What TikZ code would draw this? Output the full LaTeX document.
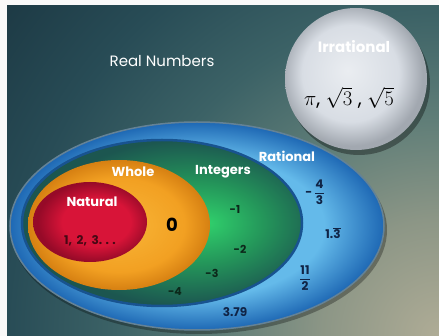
\documentclass[tikz,border=0pt]{standalone}
\usepackage{fontspec}
\setmainfont{Poppins}

% colours of the sets
\definecolor{bgA}{RGB}{175,172,150}
\definecolor{bgB}{RGB}{140,150,134}
\definecolor{bgC}{RGB}{96,126,120}
\definecolor{bgD}{RGB}{60,98,102}
\definecolor{bgE}{RGB}{40,76,86}
\definecolor{bgF}{RGB}{28,56,67}
\definecolor{bgG}{RGB}{18,42,55}
\definecolor{blueLt}{RGB}{100,186,234}
\definecolor{blueDk}{RGB}{30,104,180}
\definecolor{blueRim}{RGB}{100,130,150}
\definecolor{greenLt}{RGB}{48,208,108}
\definecolor{greenMd}{RGB}{36,150,90}
\definecolor{greenDk}{RGB}{28,86,80}
\definecolor{orangeLt}{RGB}{248,182,56}
\definecolor{orangeMd}{RGB}{242,160,34}
\definecolor{orangeDk}{RGB}{214,128,18}
\definecolor{redLt}{RGB}{216,20,56}
\definecolor{redDk}{RGB}{150,10,40}
\definecolor{greyLt}{RGB}{234,237,241}
\definecolor{greyMd}{RGB}{216,221,228}
\definecolor{greyDk}{RGB}{162,168,176}
\definecolor{numBlue}{RGB}{16,36,70}
\definecolor{numGreen}{RGB}{12,40,26}
\definecolor{numRed}{RGB}{70,8,20}

\pgfdeclareradialshading{bgshade}{\pgfpoint{0bp}{0bp}}{color(0bp)=(bgA); color(6.5bp)=(bgB); color(12bp)=(bgC); color(18bp)=(bgD); color(24bp)=(bgE); color(31bp)=(bgF); color(40bp)=(bgG); color(50bp)=(bgG)}
\pgfdeclareradialshading{ratshade}{\pgfpoint{0bp}{0bp}}{color(0bp)=(blueLt); color(17bp)=(blueLt); color(25bp)=(blueDk); color(50bp)=(blueDk)}
\pgfdeclareradialshading{intshade}{\pgfpoint{8bp}{0bp}}{color(0bp)=(greenLt); color(12bp)=(greenMd); color(25bp)=(greenDk); color(50bp)=(greenDk)}
\pgfdeclareradialshading{wholeshade}{\pgfpoint{0bp}{0bp}}{color(0bp)=(orangeLt); color(18bp)=(orangeMd); color(25bp)=(orangeDk); color(50bp)=(orangeDk)}
\pgfdeclareradialshading{natshade}{\pgfpoint{4bp}{0bp}}{color(0bp)=(redLt); color(15bp)=(redLt); color(25bp)=(redDk); color(50bp)=(redDk)}
\pgfdeclareradialshading{irrshade}{\pgfpoint{-3bp}{3bp}}{color(0bp)=(greyLt); color(17bp)=(greyMd); color(25bp)=(greyDk); color(50bp)=(greyDk)}

\begin{document}
\begin{tikzpicture}[x=1pt, y=-1pt,
    setlbl/.style={text=white, font=\bfseries\fontsize{13}{15}\selectfont},
    intnum/.style={text=numGreen, font=\bfseries\fontsize{11}{13}\selectfont},
    ratnum/.style={text=numBlue, font=\bfseries\fontsize{12}{14}\selectfont}]
    \useasboundingbox (0,0) rectangle (439,336);

    % hintergrund, hell nach rechts unten
    \fill[white!95!gray] (0,0) rectangle (439,336);
    \begin{scope}
        \clip (7,6) rectangle (439,336);
        \shade[shading=bgshade] (-11,-114) rectangle (889,786);
    \end{scope}

    % irrationale zahlen (kreis mit schatten)
    \fill[black, opacity=.35] (359,84) circle (71);
    \shade[shading=irrshade] (356,79) circle (71);

    % rationale zahlen
    \fill[black, opacity=.3] (199,230) ellipse (188 and 104);
    \shade[shading=ratshade, draw=blueRim, line width=1.5] (197,226) ellipse (187 and 104);

    % ganze zahlen
    \shade[shading=intshade, draw=blueDk!80!black, line width=2.5] (162,223) ellipse (140 and 83);

    % whole numbers
    \shade[shading=wholeshade] (119,225) ellipse (91 and 65);

    % natuerliche zahlen
    \shade[shading=natshade] (90,222) ellipse (57 and 40);

    % beschriftung
    \node[setlbl, font=\fontsize{15}{17}\selectfont] (real) at (162,61) {Real Numbers};
    \node[setlbl, font=\bfseries\fontsize{15}{17}\selectfont] (irr) at (354,47) {Irrational};
    \node[font=\fontsize{20}{24}\selectfont] (irrnum) at (349,98) {$\pi$, $\sqrt{3}$ , $\sqrt{5}$};
    \node[setlbl] (rat) at (287,156) {Rational};
    \node[setlbl] (whole) at (133,172) {Whole};
    \node[setlbl] (int) at (223,172) {Integers};
    \node[setlbl] (nat) at (92,202) {Natural};

    % zahlen
    \node[text=numRed, font=\bfseries\fontsize{12}{14}\selectfont] (natnum) at (90,241) {1,\, 2,\, 3. . .};
    \node[font=\bfseries\fontsize{18}{20}\selectfont] (zero) at (172,225) {0};
    \node[intnum] (m1) at (235,209) {-1};
    \node[intnum] (m2) at (240,249) {-2};
    \node[intnum] (m3) at (212,273) {-3};
    \node[intnum] (m4) at (175,292) {-4};
    \node[ratnum] (dec) at (235,312) {3.79};
    \node[ratnum] (frA) at (315,192) {-\,$\displaystyle\frac{\textbf{4}}{\textbf{3}}$};
    \node[ratnum] (rep) at (333,233) {1.$\overline{\textbf{3}}$};
    \node[ratnum] (frB) at (305,278) {$\displaystyle\frac{\textbf{11}}{\textbf{2}}$};
\end{tikzpicture}
\end{document}
